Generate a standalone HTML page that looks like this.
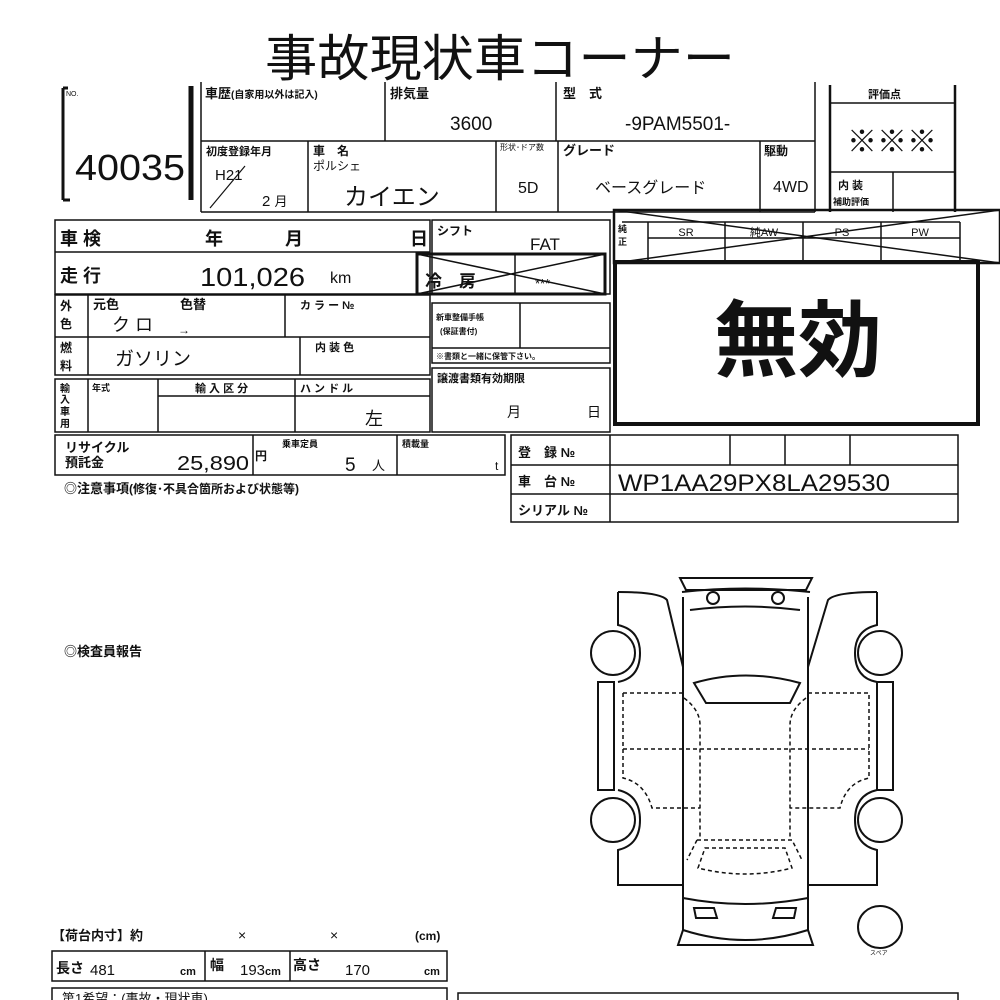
<!DOCTYPE html>
<html><head><meta charset="utf-8"><style>
html,body{margin:0;padding:0;background:#fff;width:1000px;height:1000px;overflow:hidden}
svg text{font-family:"Liberation Sans","Noto Sans CJK JP",sans-serif;fill:#111}
</style></head><body>
<svg width="1000" height="1000" viewBox="0 0 1000 1000" xmlns="http://www.w3.org/2000/svg">
<g stroke="#111" fill="none" stroke-width="1.5">
<path d="M63 88 V200 M63 88 H68 M63 200 H70" stroke-width="3"/>
<line x1="191" y1="86" x2="191" y2="200" stroke-width="5"/>
<path d="M201 82 V212 M201 212 H815 M201 141 H815 M385 82 V141 M556 82 V141 M815 82 V212 M308 141 V212 M496 141 V212 M558 141 V212 M760 141 V212"/>
<path d="M830 85 V212 M955 85 V212" stroke-width="2.5"/>
<path d="M830 103 H955 M830 172 H955 M893 172 V212"/>
<rect x="55" y="220" width="375" height="74"/>
<line x1="55" y1="252" x2="430" y2="252"/>
<rect x="55" y="295" width="375" height="80"/>
<path d="M55 337 H430 M88 295 V375 M285 295 V337 M300 337 V375"/>
<rect x="55" y="379" width="375" height="53"/>
<path d="M88 379 V432 M158 379 V432 M295 379 V432 M158 396 H430"/>
<rect x="432" y="220" width="178" height="74"/>
<rect x="417" y="254" width="188" height="40" stroke-width="3"/>
<path d="M417 254 L605 294 M417 294 L605 254 M515 254 V294"/>
<rect x="432" y="303" width="178" height="60"/>
<path d="M432 348 H610 M520 303 V348"/>
<rect x="432" y="368" width="178" height="64"/>
<rect x="614" y="210" width="386" height="53" stroke-width="2.5"/>
<path d="M614 210 L1000 263 M614 263 L1000 210"/>
<path d="M622 222 H960 M648 238 H960 M648 222 V263 M725 222 V263 M803 222 V263 M881 222 V263 M960 222 V263"/>
<rect x="615" y="262" width="363" height="162" stroke-width="4"/>
<rect x="55" y="435" width="450" height="40"/>
<path d="M253 435 V475 M397 435 V475"/>
<rect x="511" y="435" width="447" height="87"/>
<path d="M511 465 H958 M511 494 H958 M610 435 V522 M730 435 V465 M785 435 V465 M850 435 V465"/>
<rect x="52" y="951" width="395" height="30"/>
<path d="M205 951 V981 M290 951 V981"/>
<rect x="52" y="988" width="395" height="20"/>
<rect x="458" y="993" width="500" height="20"/>
<g stroke-width="2">
<path d="M683 597 V930 Q745 950 808 930 V597"/>
<path d="M680 578 H812 L806 590 H686 Z"/>
<path d="M682 592 Q745 585 810 592"/>
<path d="M690 610 Q745 603 800 610"/>
<circle cx="713" cy="598" r="6"/><circle cx="778" cy="598" r="6"/>
<path d="M694 683 Q745 668 800 683 L790 703 H706 Z"/>
<path d="M683 898 Q745 910 808 898"/>
<path d="M694 908 H714 L717 918 H696 Z M776 908 H796 L794 918 H773 Z"/>
<path d="M683 930 L678 945 H813 L808 930"/>
<path d="M618 592 Q660 592 667 600 L683 667"/>
<path d="M618 592 V625 Q640 630 640 653 Q640 678 618 682"/>
<circle cx="613" cy="653" r="22"/>
<path d="M598 682 H614 V790 H598 Z"/>
<path d="M618 790 Q640 795 640 820 Q640 845 618 850 V885 H683"/>
<circle cx="613" cy="820" r="22"/>
<path d="M877 592 Q835 592 828 600 L808 667"/>
<path d="M877 592 V625 Q855 630 855 653 Q855 678 877 682"/>
<circle cx="880" cy="653" r="22"/>
<path d="M877 682 H893 V790 H877 Z"/>
<path d="M877 790 Q855 795 855 820 Q855 845 877 850 V885 H808"/>
<circle cx="880" cy="820" r="22"/>
<ellipse cx="880" cy="927" rx="22" ry="21"/>
</g>
<g stroke-width="1.5" stroke-dasharray="4 3">
<path d="M623 693 H683 M808 693 H869 V778 L862 780 Q845 787 840 808 H790 M623 693 V778 Q645 783 652 808 H700"/>
<path d="M623 749 H869"/>
<path d="M684 698 Q700 710 700 725 V838 M806 698 Q790 710 790 725 V838"/>
<path d="M697 840 H792 L802 860 M697 840 L687 860"/>
<path d="M705 848 H785 L792 868 Q745 880 698 868 Z"/>
</g>
</g>
<text x="500" y="76" font-size="50" text-anchor="middle" textLength="470" lengthAdjust="spacingAndGlyphs">事故現状車コーナー</text>
<text x="66" y="96" font-size="7">NO.</text>
<text x="75" y="180" font-size="36" textLength="110" lengthAdjust="spacingAndGlyphs">40035</text>
<text x="205" y="98" font-size="13" font-weight="bold">車歴<tspan font-size="10">(自家用以外は記入)</tspan></text>
<text x="390" y="98" font-size="13" font-weight="bold">排気量</text>
<text x="450" y="130" font-size="19">3600</text>
<text x="563" y="98" font-size="13" font-weight="bold">型　式</text>
<text x="625" y="130" font-size="19">-9PAM5501-</text>
<text x="206" y="155" font-size="11" font-weight="bold">初度登録年月</text>
<text x="215" y="180" font-size="15">H21</text>
<path d="M210 208 L245 166" stroke="#111" stroke-width="1.2"/>
<text x="262" y="206" font-size="15">2 <tspan font-size="13">月</tspan></text>
<text x="313" y="155" font-size="12" font-weight="bold">車　名</text>
<text x="313" y="170" font-size="12">ポルシェ</text>
<text x="344" y="205" font-size="24">カイエン</text>
<text x="500" y="150" font-size="8">形状･ドア数</text>
<text x="518" y="193" font-size="16">5D</text>
<text x="563" y="155" font-size="13" font-weight="bold">グレード</text>
<text x="595" y="193" font-size="16">ベースグレード</text>
<text x="764" y="155" font-size="12" font-weight="bold">駆動</text>
<text x="773" y="192" font-size="16">4WD</text>
<text x="868" y="98" font-size="11" font-weight="bold">評価点</text>
<text x="892" y="152" font-size="30" text-anchor="middle">※※※</text>
<text x="838" y="189" font-size="11" font-weight="bold">内 装</text>
<text x="833" y="205" font-size="9" font-weight="bold">補助評価</text>
<text x="60" y="245" font-size="18" font-weight="bold">車 検</text>
<text x="205" y="245" font-size="18" font-weight="bold">年</text>
<text x="285" y="245" font-size="18" font-weight="bold">月</text>
<text x="410" y="245" font-size="18" font-weight="bold">日</text>
<text x="60" y="282" font-size="18" font-weight="bold">走 行</text>
<text x="200" y="286" font-size="26" textLength="105" lengthAdjust="spacingAndGlyphs">101,026</text>
<text x="330" y="283" font-size="16">km</text>
<text x="60" y="310" font-size="12" font-weight="bold">外</text>
<text x="60" y="328" font-size="12" font-weight="bold">色</text>
<text x="93" y="309" font-size="13" font-weight="bold">元色</text>
<text x="180" y="309" font-size="13" font-weight="bold">色替</text>
<text x="112" y="331" font-size="18">ク ロ</text>
<text x="178" y="334" font-size="12">→</text>
<text x="300" y="309" font-size="11" font-weight="bold">カ ラ ー №</text>
<text x="60" y="352" font-size="12" font-weight="bold">燃</text>
<text x="60" y="370" font-size="12" font-weight="bold">料</text>
<text x="115" y="365" font-size="19">ガソリン</text>
<text x="315" y="351" font-size="11" font-weight="bold">内 装 色</text>
<text x="60" y="392" font-size="10" font-weight="bold">輸</text>
<text x="60" y="403" font-size="10" font-weight="bold">入</text>
<text x="60" y="415" font-size="10" font-weight="bold">車</text>
<text x="60" y="427" font-size="10" font-weight="bold">用</text>
<text x="92" y="391" font-size="9" font-weight="bold">年式</text>
<text x="195" y="392" font-size="11" font-weight="bold">輸 入 区 分</text>
<text x="300" y="392" font-size="11" font-weight="bold">ハ ン ド ル</text>
<text x="365" y="425" font-size="18">左</text>
<text x="437" y="235" font-size="12" font-weight="bold">シフト</text>
<text x="530" y="250" font-size="17">FAT</text>
<text x="425" y="287" font-size="17" font-weight="bold">冷　房</text>
<text x="535" y="288" font-size="13">***</text>
<text x="436" y="320" font-size="8" font-weight="bold">新車整備手帳</text>
<text x="440" y="334" font-size="8" font-weight="bold">(保証書付)</text>
<text x="436" y="359" font-size="8" font-weight="bold">※書類と一緒に保管下さい。</text>
<text x="437" y="382" font-size="11" font-weight="bold">譲渡書類有効期限</text>
<text x="507" y="417" font-size="14">月</text>
<text x="587" y="417" font-size="14">日</text>
<text x="618" y="232" font-size="9" font-weight="bold">純</text>
<text x="618" y="245" font-size="9" font-weight="bold">正</text>
<text x="686" y="236" font-size="11" text-anchor="middle">SR</text>
<text x="764" y="236" font-size="11" text-anchor="middle">純AW</text>
<text x="842" y="236" font-size="11" text-anchor="middle">PS</text>
<text x="920" y="236" font-size="11" text-anchor="middle">PW</text>
<text x="798" y="370" font-size="84" font-weight="bold" text-anchor="middle">無効</text>
<text x="65" y="452" font-size="13" font-weight="bold">リサイクル</text>
<text x="65" y="467" font-size="13" font-weight="bold">預託金</text>
<text x="177" y="470" font-size="20" textLength="72" lengthAdjust="spacingAndGlyphs">25,890</text>
<text x="255" y="460" font-size="12" font-weight="bold">円</text>
<text x="282" y="447" font-size="9" font-weight="bold">乗車定員</text>
<text x="345" y="471" font-size="19">5</text>
<text x="372" y="470" font-size="13">人</text>
<text x="402" y="447" font-size="9" font-weight="bold">積載量</text>
<text x="495" y="470" font-size="12">t</text>
<text x="64" y="493" font-size="13" font-weight="bold">◎注意事項<tspan font-size="12">(修復･不具合箇所および状態等)</tspan></text>
<text x="518" y="457" font-size="13" font-weight="bold">登　録 №</text>
<text x="518" y="486" font-size="13" font-weight="bold">車　台 №</text>
<text x="518" y="515" font-size="13" font-weight="bold">シリアル №</text>
<text x="618" y="491" font-size="24" textLength="272" lengthAdjust="spacingAndGlyphs">WP1AA29PX8LA29530</text>
<text x="64" y="656" font-size="13" font-weight="bold">◎検査員報告</text>
<text x="870" y="955" font-size="6">スペア</text>
<text x="52" y="940" font-size="13" font-weight="bold">【荷台内寸】約</text>
<text x="238" y="940" font-size="14">×</text>
<text x="330" y="940" font-size="14">×</text>
<text x="415" y="940" font-size="12" font-weight="bold">(cm)</text>
<text x="56" y="973" font-size="14" font-weight="bold">長さ</text>
<text x="90" y="975" font-size="15">481</text>
<text x="180" y="975" font-size="11" font-weight="bold">cm</text>
<text x="210" y="970" font-size="14" font-weight="bold">幅</text>
<text x="240" y="975" font-size="15">193</text>
<text x="265" y="975" font-size="11" font-weight="bold">cm</text>
<text x="293" y="970" font-size="14" font-weight="bold">高さ</text>
<text x="345" y="975" font-size="15">170</text>
<text x="424" y="975" font-size="11" font-weight="bold">cm</text>
<text x="62" y="1003" font-size="13">第1希望：(事故・現状車)</text>
</svg>
</body></html>
